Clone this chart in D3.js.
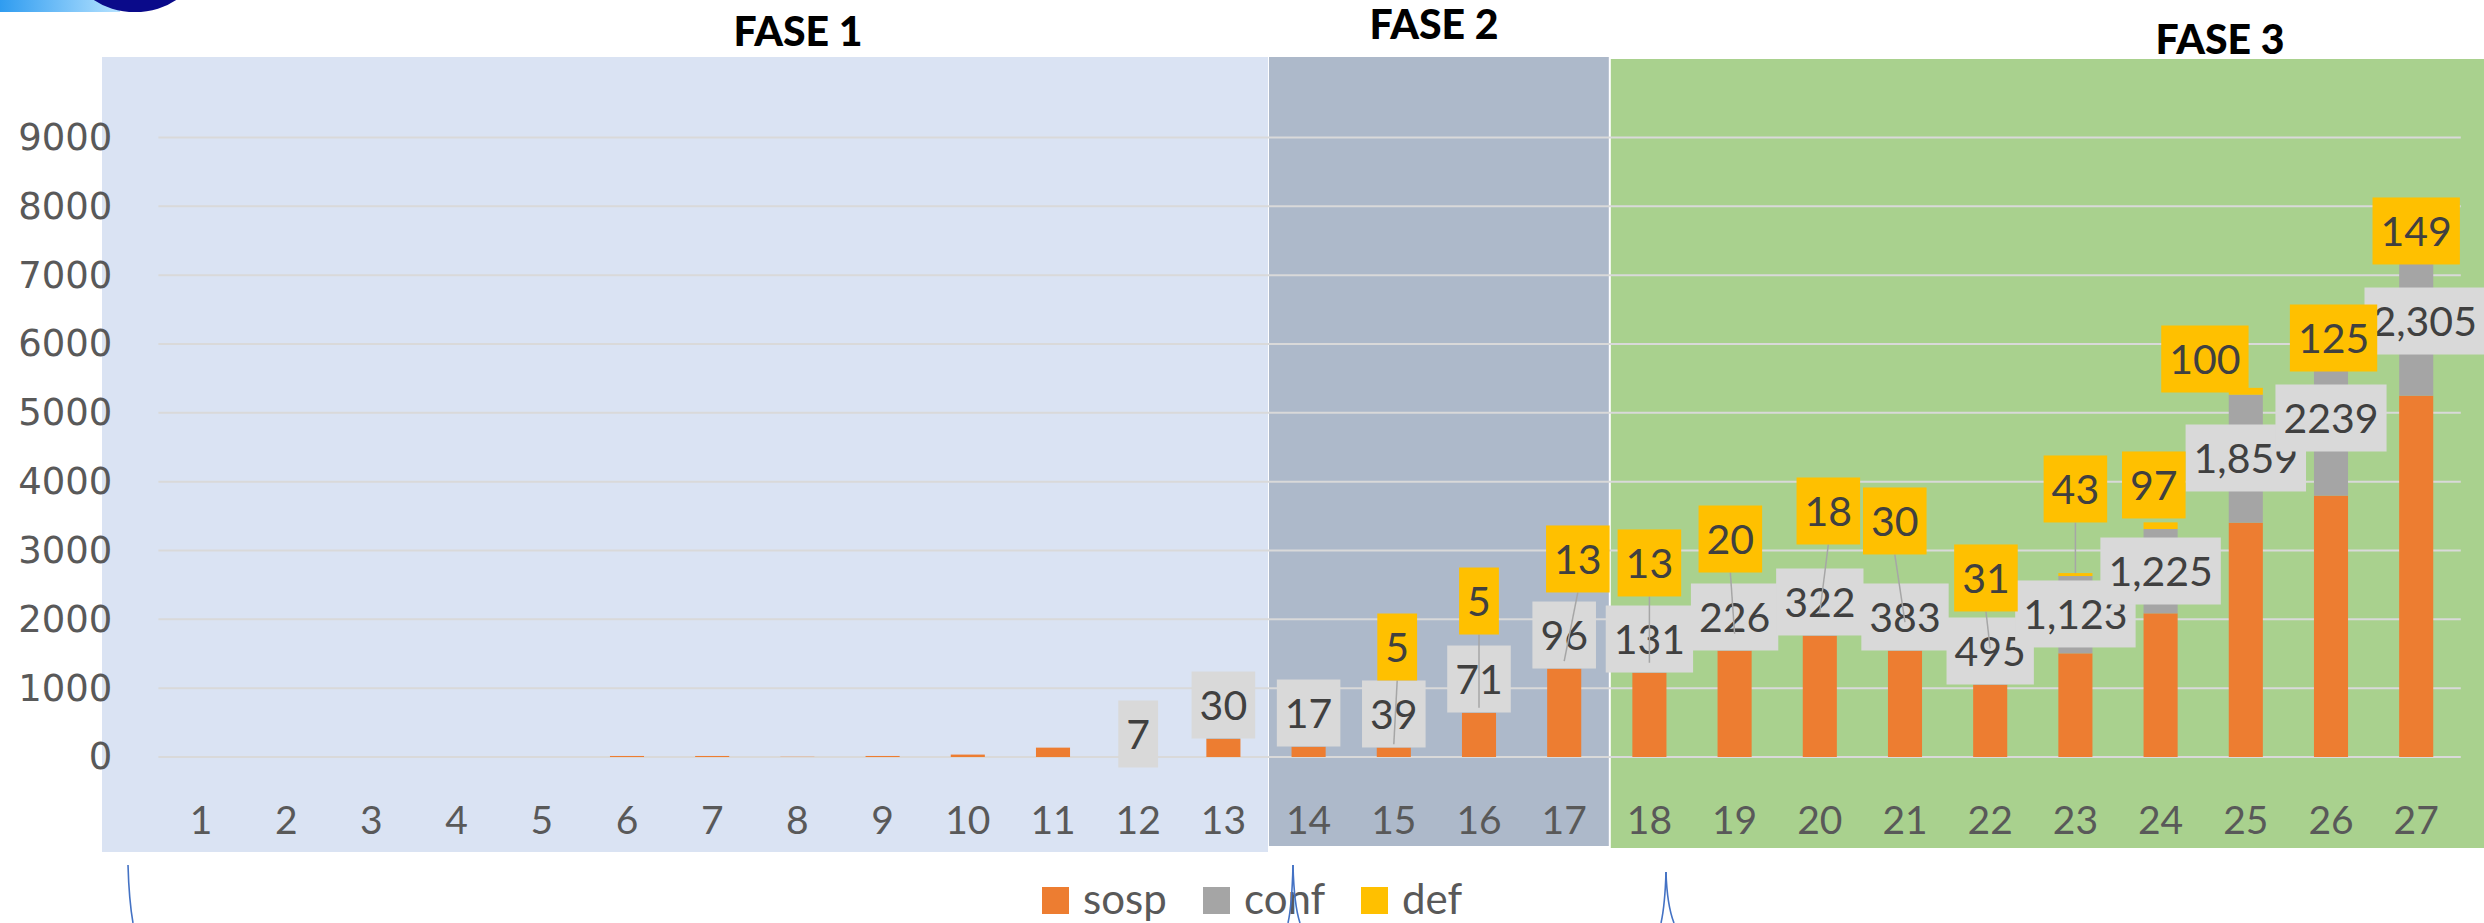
<!DOCTYPE html>
<html>
<head>
<meta charset="utf-8">
<script src="https://cdn.jsdelivr.net/npm/d3@7/dist/d3.min.js"></script>
<style>
  body { margin: 0; background: #fff; }
  svg { display: block; }
  .tick text { fill: #595959; }
</style>
</head>
<body>
<svg width="2484" height="923"></svg>
<script>
// categories (days) and the three stacked series
const days = [1, 2, 3, 4, 5, 6, 7, 8, 9, 10, 11, 12, 13, 14, 15, 16, 17, 18, 19, 20, 21, 22, 23, 24, 25, 26, 27];
const sosp = [0, 0, 0, 0, 0, 15, 15, 3, 15, 35, 136, 50, 262, 150, 140, 640, 1285, 1225, 1545, 1763, 1545, 1051, 1506, 2087, 3404, 3797, 5249];
const conf = [0, 0, 0, 0, 0, 0, 0, 0, 0, 0, 0, 7, 30, 17, 39, 71, 96, 131, 226, 322, 383, 495, 1123, 1225, 1859, 2239, 2305];
const def  = [0, 0, 0, 0, 0, 0, 0, 0, 0, 0, 0, 0, 0, 0, 5, 5, 13, 13, 20, 18, 30, 31, 43, 97, 100, 125, 149];

// label texts as printed on the chart
const confText = ["", "", "", "", "", "", "", "", "", "", "", "7", "30", "17", "39", "71", "96", "131", "226", "322", "383", "495", "1,123", "1,225", "1,859", "2239", "2,305"];

// where the (moved) data labels sit, in value units, plus sideways nudge in steps
const confLabelAt = [null, null, null, null, null, null, null, null, null, null, null, 334, 755, 639, 625, 1133, 1772, 1714, 2034, 2252, 2034, 1540, 2078, 2702, 4344, 4925, 6334];
const confLabelNudge = [0, 0, 0, 0, 0, 0, 0, 0, 0, 0, 0, 0, 0, 0, 0, 0, 0, 0, 0, 0, 0, 0, 0, 0, 0, 0, 0.1];
const defLabelAt = [null, null, null, null, null, null, null, null, null, null, null, null, null, null, 1598, 2266, 2877, 2819, 3167, 3574, 3429, 2601, 3894, 3952, 5782, 6087, 7642];
const defLabelNudge = [0, 0, 0, 0, 0, 0, 0, 0, 0, 0, 0, 0, 0, 0, 0.04, 0, 0.16, 0, -0.05, 0.1, -0.12, -0.05, 0, -0.08, -0.48, 0.03, 0];

const yTicks = [0, 1000, 2000, 3000, 4000, 5000, 6000, 7000, 8000, 9000];
const seriesKeys = ["sosp", "conf", "def"];
const seriesColors = ["#ED7D31", "#A5A5A5", "#FFC000"];

const phaseNames = ["FASE 1", "FASE 2", "FASE 3"];
const phaseFirst = [1, 14, 18];
const phaseLast = [13, 17, 27];

const svg = d3.select("svg");
const W = 2484;

const x = d3.scaleBand().domain(days).range([158.4, 2458.8]).paddingInner(0.6).paddingOuter(0.3);
const y = d3.scaleLinear().domain([0, 9000]).range([757, 137.5]);
const cx = d => x(d) + x.bandwidth() / 2;
const step = x.step();
const color = d3.scaleOrdinal(seriesKeys, seriesColors);

// logo corner at the top left
const defs = svg.append("defs");
const lg = defs.append("linearGradient").attr("id", "logoGrad");
lg.append("stop").attr("offset", "0%").attr("stop-color", "#2f9cf0");
lg.append("stop").attr("offset", "100%").attr("stop-color", "#b5e2ff");
svg.append("rect").attr("x", 0).attr("y", 0).attr("width", 120).attr("height", 12).attr("fill", "url(#logoGrad)");
svg.append("ellipse").attr("cx", 135).attr("cy", -32).attr("rx", 60).attr("ry", 44).attr("fill", "#0a0a8a");

// phase backgrounds
const panel = [
  { x0: 102, x1: cx(phaseLast[0]) + step / 2 + 2, y0: 57, y1: 852, fill: "#DAE3F3" },
  { x0: cx(phaseFirst[1]) - step / 2 + 3, x1: cx(phaseLast[1]) + step / 2 + 2, y0: 57, y1: 846, fill: "#ADB9CA" },
  { x0: cx(phaseFirst[2]) - step / 2 + 4, x1: W, y0: 59, y1: 848, fill: "#A9D18E" }
];
svg.append("g").selectAll("rect").data(panel).join("rect")
  .attr("x", d => d.x0).attr("y", d => d.y0)
  .attr("width", d => d.x1 - d.x0).attr("height", d => d.y1 - d.y0)
  .attr("fill", d => d.fill);

// phase titles
const titlePos = [[798, 46], [1434, 39], [2220, 54]];
svg.append("g").selectAll("text").data(phaseNames).join("text")
  .attr("x", (d, i) => titlePos[i][0]).attr("y", (d, i) => titlePos[i][1])
  .attr("text-anchor", "middle")
  .style("font-family", "Lato, sans-serif").style("font-weight", 900).style("font-size", "41px")
  .attr("fill", "#000")
  .text(d => d);

// gridlines
const gridRight = x.range()[1] + 2;
svg.append("g").selectAll("line").data(yTicks).join("line")
  .attr("x1", x.range()[0]).attr("x2", gridRight)
  .attr("y1", d => y(d)).attr("y2", d => y(d))
  .attr("stroke", "#D9D9D9").attr("stroke-width", 2);

// y axis labels
const yAxis = svg.append("g").attr("transform", `translate(${x.range()[0]},0)`)
  .call(d3.axisLeft(y).tickValues(yTicks).tickSize(0).tickPadding(46).tickFormat(d3.format("d")));
yAxis.select(".domain").remove();
yAxis.selectAll("text").style("font-family", "'DejaVu Sans', sans-serif").style("font-size", "37px");

// x axis labels
const xAxis = svg.append("g").attr("transform", `translate(0,${y(0)})`)
  .call(d3.axisBottom(x).tickSize(0).tickPadding(49));
xAxis.select(".domain").remove();
xAxis.selectAll("text").style("font-family", "Lato, sans-serif").style("font-size", "39px");

// stacked bars
const rows = days.map((d, i) => ({ day: d, sosp: sosp[i], conf: conf[i], def: def[i] }));
const stacked = d3.stack().keys(seriesKeys)(rows);
svg.append("g").selectAll("g").data(stacked).join("g")
  .attr("fill", s => color(s.key))
  .selectAll("rect").data(s => s).join("rect")
  .attr("x", d => x(d.data.day))
  .attr("width", x.bandwidth())
  .attr("y", d => y(d[1]))
  .attr("height", d => y(d[0]) - y(d[1]));

// data label helper: boxed text centred at (px, py)
function boxLabel(g, px, py, txt, fill) {
  const grp = g.append("g");
  const rect = grp.append("rect").attr("fill", fill);
  const t = grp.append("text")
    .attr("x", px).attr("y", py).attr("dy", "0.36em")
    .attr("text-anchor", "middle")
    .style("font-family", "Lato, sans-serif").style("font-size", "41px")
    .attr("fill", "#404040")
    .text(txt);
  const w = t.node().getComputedTextLength() + 16;
  const h = 67;
  rect.attr("x", px - w / 2).attr("y", py - h / 2).attr("width", w).attr("height", h);
  return { w, h };
}

// conf labels
const confG = svg.append("g");
days.forEach((d, i) => {
  if (conf[i] > 0 && confLabelAt[i] != null) {
    boxLabel(confG, cx(d) + confLabelNudge[i] * step, y(confLabelAt[i]), confText[i], "#D9D9D9");
  }
});

// leader lines from the def labels down to their segment
const leadG = svg.append("g");
days.forEach((d, i) => {
  if (def[i] > 0 && defLabelAt[i] != null) {
    const lx = cx(d) + defLabelNudge[i] * step;
    const bottom = y(defLabelAt[i]) + 33.5;
    const segTop = y(sosp[i] + conf[i] + def[i]);
    if (segTop - bottom > 10) {
      leadG.append("line")
        .attr("x1", lx).attr("y1", bottom)
        .attr("x2", cx(d)).attr("y2", segTop)
        .attr("stroke", "#A6A6A6").attr("stroke-width", 1.5);
    }
  }
});

// def labels
const defG = svg.append("g");
days.forEach((d, i) => {
  if (def[i] > 0 && defLabelAt[i] != null) {
    boxLabel(defG, cx(d) + defLabelNudge[i] * step, y(defLabelAt[i]), String(def[i]), "#FFC000");
  }
});

// legend
const legendX = [1042, 1203, 1361];
const legend = svg.append("g").selectAll("g").data(seriesKeys).join("g")
  .attr("transform", (d, i) => `translate(${legendX[i]},887)`);
legend.append("rect").attr("width", 27).attr("height", 27).attr("fill", d => color(d));
legend.append("text").attr("x", 41).attr("y", 27)
  .style("font-family", "Lato, sans-serif").style("font-size", "42px")
  .attr("fill", "#595959")
  .text(d => d);

// thin blue bracket strokes under the panels
const strokes = [
  "M128,865 Q129,900 133,923",
  "M1293,865 Q1292,905 1288,923",
  "M1293,865 Q1294,905 1300,923",
  "M1666,872 Q1665,905 1661,923",
  "M1666,872 Q1667,905 1674,923"
];
svg.append("g").selectAll("path").data(strokes).join("path")
  .attr("d", d => d).attr("fill", "none")
  .attr("stroke", "#4472C4").attr("stroke-width", 1.6);
</script>
</body>
</html>
